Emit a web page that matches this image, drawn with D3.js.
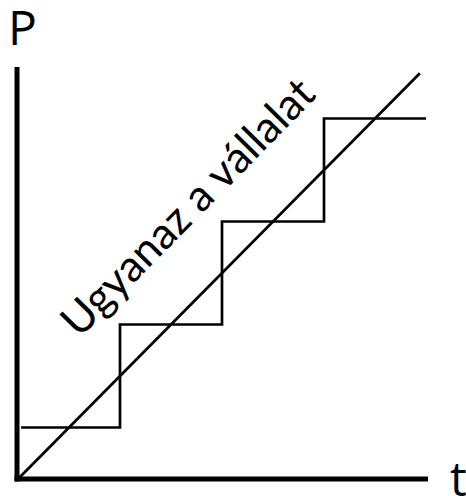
<!DOCTYPE html>
<html><head><meta charset="utf-8">
<script src="https://cdn.jsdelivr.net/npm/d3@7"></script>
<style>body{margin:0;background:#fff}svg{display:block}</style>
</head><body>
<script>
// data
const stepT = [0.03, 1, 2, 3, 4];
const stepP = [0.5, 1.5, 2.5, 3.5, 3.5];
const diagT = [0, 3.94];
const diagP = [0, 3.94];
const yLabel = "P";
const xLabel = "t";
const lineLabel = "Ugyanaz a vállalat";
const labelPos = [0.6, 1.36];

const W = 466, H = 496;
const x = d3.scaleLinear().domain([0, 4]).range([18, 426]);
const y = d3.scaleLinear().domain([0, 4]).range([479, 67]);

const svg = d3.select("body").append("svg").attr("width", W).attr("height", H);

// axes
const xAxis = d3.axisBottom(x).tickValues([]).tickSizeOuter(0);
const yAxis = d3.axisLeft(y).tickValues([]).tickSizeOuter(0);
const gx = svg.append("g").attr("transform", `translate(0,${y(0)})`).call(xAxis);
const gy = svg.append("g").attr("transform", `translate(${x(0) - 1},0)`).call(yAxis);
gx.select(".domain").attr("stroke", "#000").attr("stroke-width", 5).attr("d", `M${x(0) - 3.5},0H${x(4.02)}`);
gy.select(".domain").attr("stroke", "#000").attr("stroke-width", 5).attr("d", `M0,${y(0) + 2.5}V${y(4)}`);

const line = d3.line().x(d => x(d[0])).y(d => y(d[1]));

svg.append("path").datum(stepT.map((t, i) => [t, stepP[i]]))
  .attr("d", d3.line().x(d => x(d[0])).y(d => y(d[1])).curve(d3.curveStepAfter))
  .attr("fill", "none").attr("stroke", "#000").attr("stroke-width", 2.7);

svg.append("path").datum(diagT.map((t, i) => [t, diagP[i]]))
  .attr("d", line)
  .attr("fill", "none").attr("stroke", "#000").attr("stroke-width", 2.7);

const font = "'Open Sans', 'Noto Sans', sans-serif";
svg.append("text").attr("x", 8).attr("y", 45)
  .attr("font-family", font).attr("font-size", 48).attr("fill", "#000").text(yLabel);
svg.append("text").attr("x", 450).attr("y", 496)
  .attr("font-family", font).attr("font-size", 47).attr("fill", "#000").text(xLabel);

const lx = x(labelPos[0]), ly = y(labelPos[1]);
const lab = svg.append("text")
  .attr("transform", `translate(${lx},${ly}) rotate(-45.5)`)
  .attr("font-family", "Lato, sans-serif").attr("font-size", 40).attr("fill", "#000").text(lineLabel);
const len = lab.node().getComputedTextLength();
lab.attr("font-size", 40 * 340 / len);
</script>
</body></html>
